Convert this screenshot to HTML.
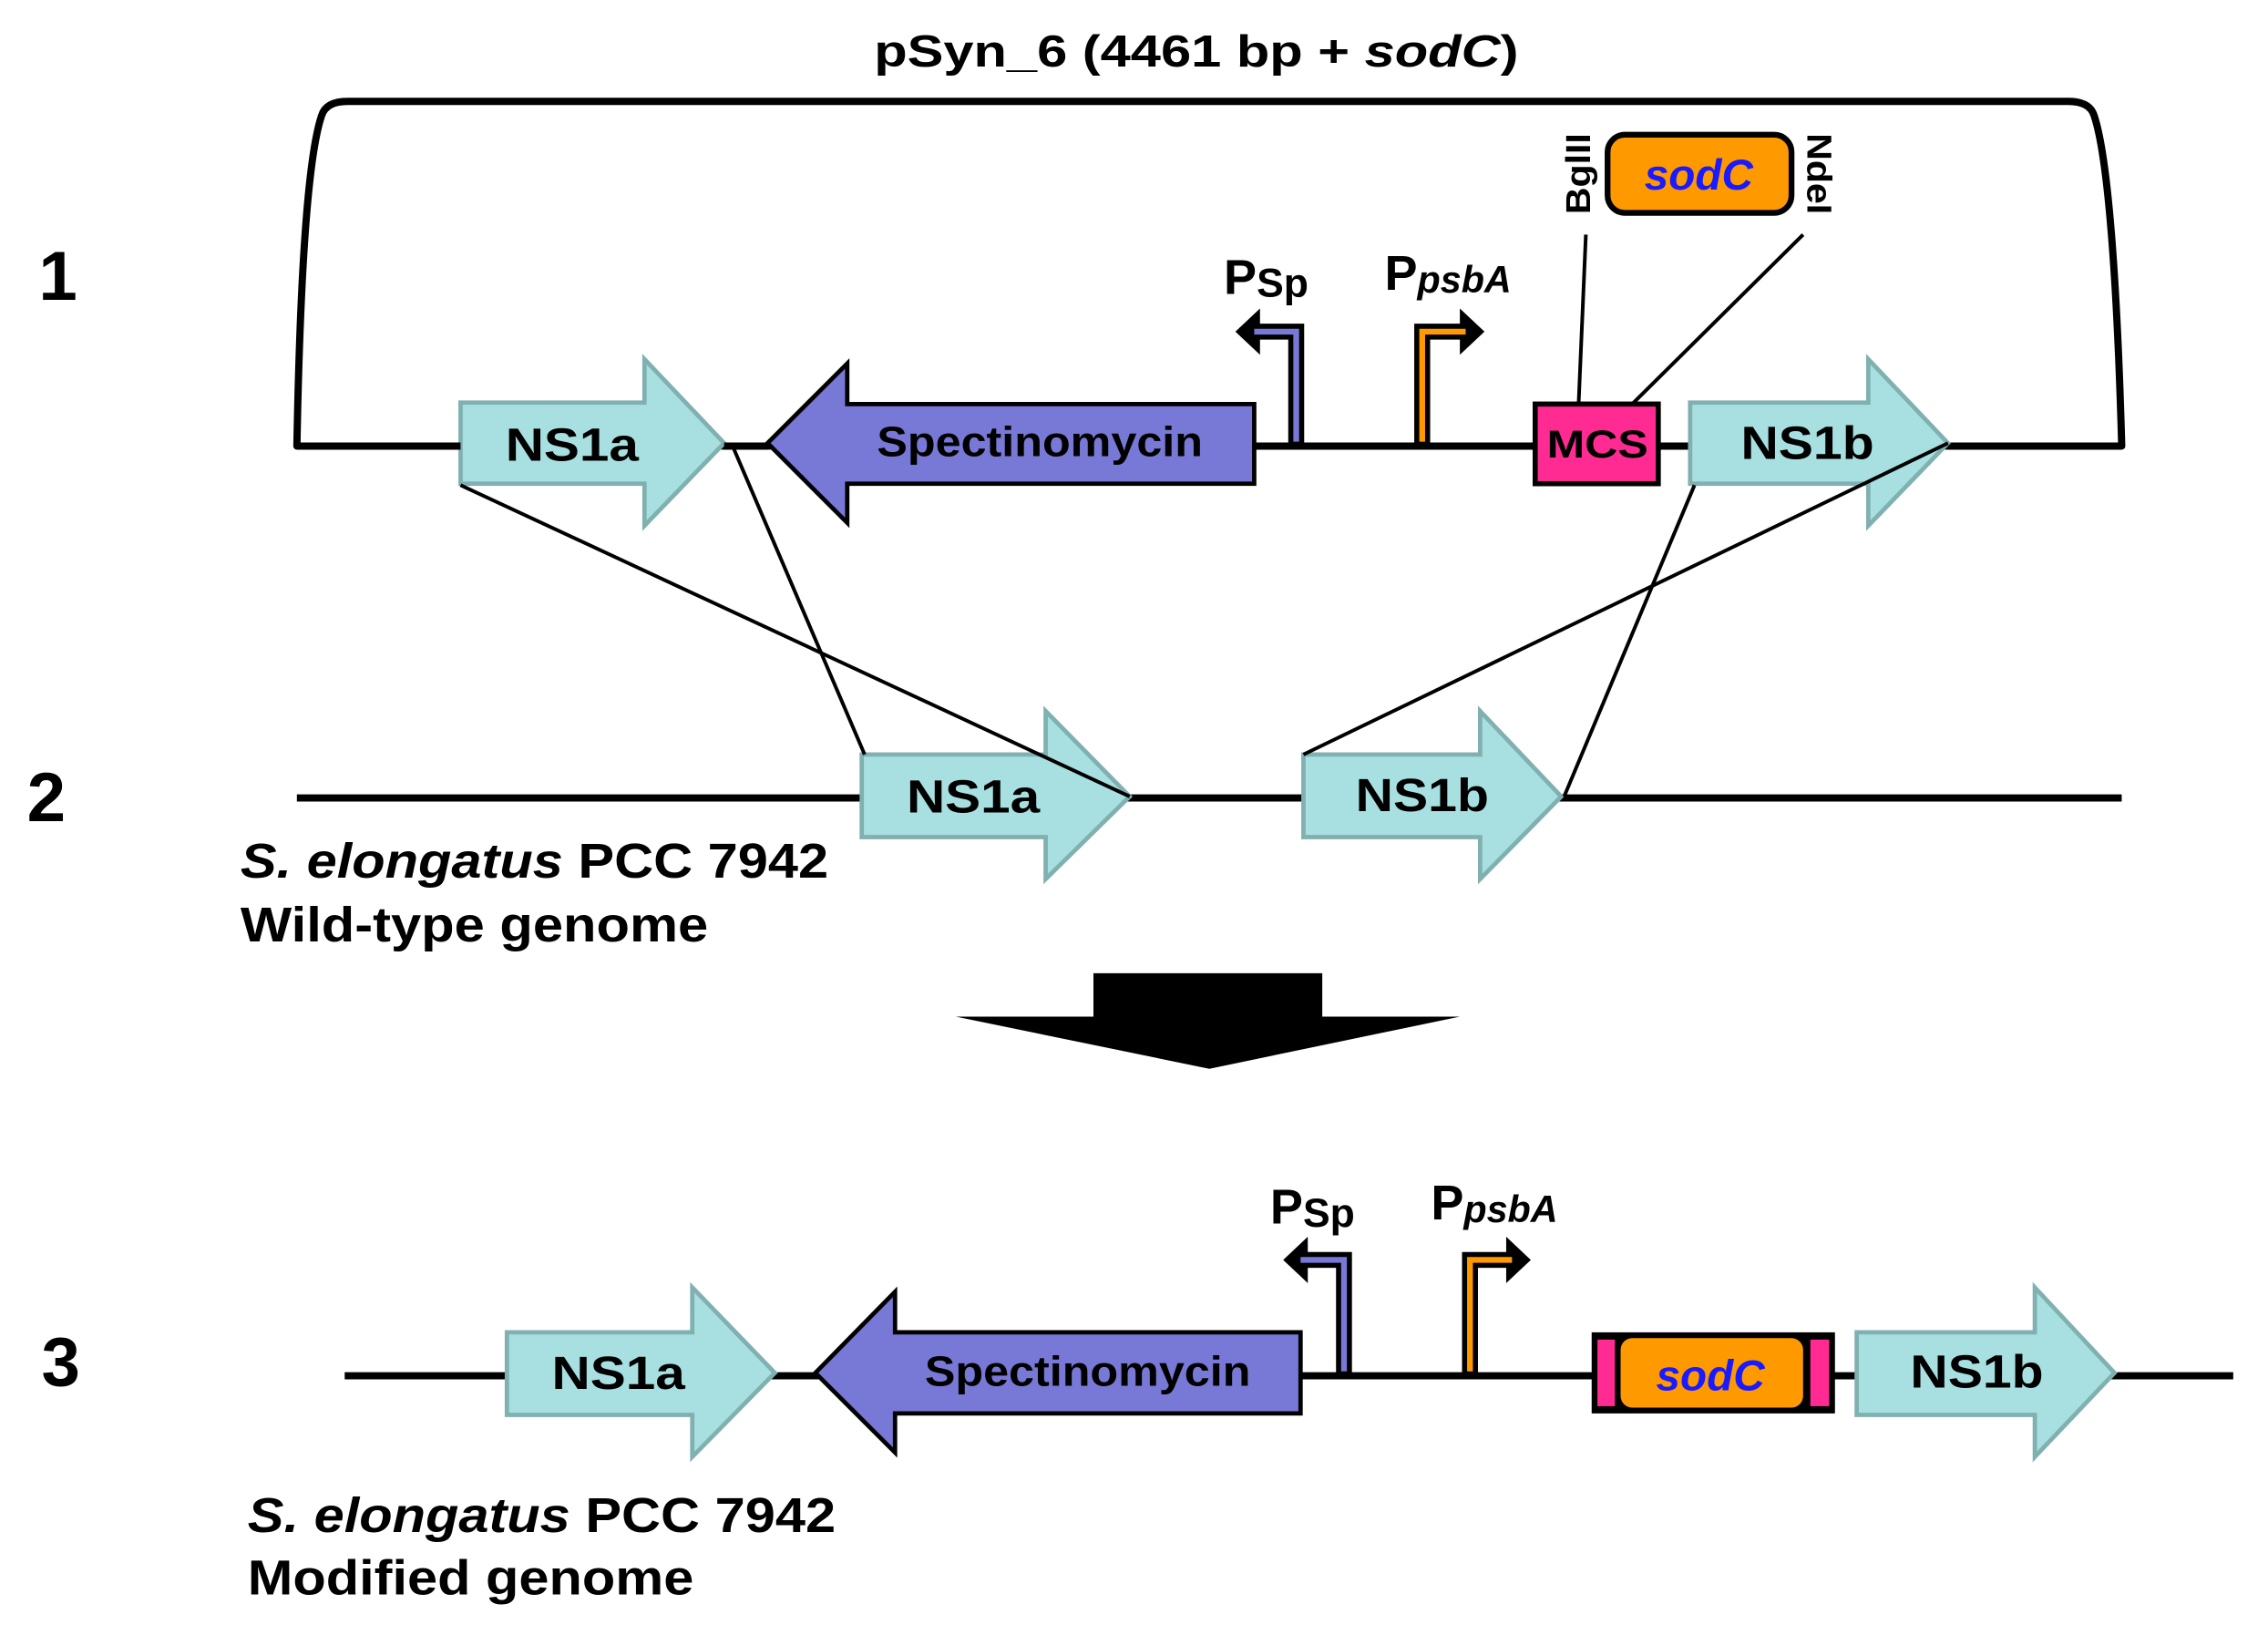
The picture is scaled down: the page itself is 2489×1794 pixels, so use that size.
<!DOCTYPE html>
<html><head><meta charset="utf-8"><style>html,body{margin:0;padding:0;background:#fff}svg{display:block}</style></head>
<body>
<svg width="2489" height="1794" viewBox="0 0 1566 1129" preserveAspectRatio="none" xmlns="http://www.w3.org/2000/svg" font-family="Liberation Sans, Arial, sans-serif" font-weight="bold">
<text x="826" y="46" font-size="31" text-anchor="middle" textLength="445" lengthAdjust="spacingAndGlyphs">pSyn_6 (4461 bp + <tspan font-style="italic">sodC</tspan>)</text>
<path d="M205,308 C207,200 212,110 222,80 Q225,70 240,70 L1428,70 Q1443,70 1446,80 C1456,110 1462,200 1465,308 Z" fill="none" stroke="#000" stroke-width="5" stroke-linejoin="round"/>
<text x="40" y="207" font-size="48" text-anchor="middle">1</text>
<text x="32" y="567" font-size="48" text-anchor="middle">2</text>
<text x="42" y="957" font-size="48" text-anchor="middle">3</text>

<polygon points="318,278 445,278 445,248 500,306 445,363 445,334 318,334" fill="#a8dfe0" stroke="#80b0b0" stroke-width="3"/>
<text x="395" y="318" font-size="32" text-anchor="middle" textLength="92" lengthAdjust="spacingAndGlyphs">NS1a</text>
<polygon points="530,306 585,251 585,279 866,279 866,334 585,334 585,361" fill="#7878d6" stroke="#000" stroke-width="3"/>
<text x="718" y="315" font-size="29" text-anchor="middle" textLength="225" lengthAdjust="spacingAndGlyphs">Spectinomycin</text>
<path d="M895,306 L895,229 L868,229" fill="none" stroke="#000" stroke-width="11"/>
<polygon points="853,229 870,213 870,245" fill="#000"/>
<path d="M895,305 L895,229 L866,229" fill="none" stroke="#7878d6" stroke-width="4"/>
<text x="845" y="203" font-size="34">P<tspan font-size="28" dy="2">Sp</tspan></text>
<path d="M982,306 L982,229 L1010,229" fill="none" stroke="#000" stroke-width="11"/>
<polygon points="1025,229 1008,213 1008,245" fill="#000"/>
<path d="M982,305 L982,229 L1012,229" fill="none" stroke="#ff9900" stroke-width="4"/>
<text x="956" y="200" font-size="34">P<tspan font-size="26" font-style="italic" dy="2">psbA</tspan></text>
<line x1="500" y1="308" x2="530" y2="308" stroke="#000" stroke-width="5"/>
<line x1="866" y1="308" x2="1060" y2="308" stroke="#000" stroke-width="5"/>
<line x1="1145" y1="308" x2="1167" y2="308" stroke="#000" stroke-width="5"/>
<line x1="205" y1="308" x2="318" y2="308" stroke="#000" stroke-width="5"/>
<line x1="1345" y1="308" x2="1465" y2="308" stroke="#000" stroke-width="5"/>
<rect x="1060" y="279" width="85" height="55" fill="#ff2a92" stroke="#000" stroke-width="3.5"/>
<text x="1103" y="316" font-size="27" text-anchor="middle" textLength="70" lengthAdjust="spacingAndGlyphs">MCS</text>
<polygon points="1167,278 1290,278 1290,248 1345,306 1290,363 1290,334 1167,334" fill="#a8dfe0" stroke="#80b0b0" stroke-width="3"/>
<text x="1248" y="317" font-size="32" text-anchor="middle" textLength="92" lengthAdjust="spacingAndGlyphs">NS1b</text>
<rect x="1110" y="93" width="127" height="54" rx="12" fill="#ff9900" stroke="#000" stroke-width="4"/>
<text x="1173" y="131" font-size="30" font-style="italic" fill="#1a1aff" text-anchor="middle">sodC</text>
<text transform="translate(1098,120) rotate(-90)" font-size="24" text-anchor="middle" textLength="56" lengthAdjust="spacingAndGlyphs">BglII</text>
<text transform="translate(1248,120) rotate(90)" font-size="24" text-anchor="middle" textLength="56" lengthAdjust="spacingAndGlyphs">NdeI</text>

<line x1="205" y1="551" x2="1465" y2="551" stroke="#000" stroke-width="5"/>
<polygon points="595,521 722,521 722,491 780,550 722,607 722,578 595,578" fill="#a8dfe0" stroke="#80b0b0" stroke-width="3"/>
<text x="672" y="561" font-size="32" text-anchor="middle" textLength="92" lengthAdjust="spacingAndGlyphs">NS1a</text>
<polygon points="900,521 1022,521 1022,491 1078,550 1022,607 1022,578 900,578" fill="#a8dfe0" stroke="#80b0b0" stroke-width="3"/>
<text x="982" y="560" font-size="32" text-anchor="middle" textLength="92" lengthAdjust="spacingAndGlyphs">NS1b</text>
<text x="166" y="606" font-size="34" textLength="406" lengthAdjust="spacingAndGlyphs"><tspan font-style="italic">S. elongatus</tspan> PCC 7942</text>
<text x="166" y="650" font-size="34" textLength="323" lengthAdjust="spacingAndGlyphs">Wild-type genome</text>

<g stroke="#000" stroke-width="2.5">
<line x1="318" y1="335" x2="780" y2="550"/>
<line x1="505" y1="306" x2="597" y2="521"/>
<line x1="1170" y1="335" x2="1080" y2="550"/>
<line x1="1345" y1="306" x2="900" y2="521"/>
<line x1="1095" y1="162" x2="1090" y2="279"/>
<line x1="1245" y1="162" x2="1127" y2="279"/>
</g>

<polygon points="755,672 913,672 913,702 1008,702 835,738 660,702 755,702" fill="#000"/>

<line x1="238" y1="950" x2="1542" y2="950" stroke="#000" stroke-width="5"/>
<polygon points="350,920 478,920 478,889 535,948 478,1006 478,977 350,977" fill="#a8dfe0" stroke="#80b0b0" stroke-width="3"/>
<text x="427" y="959" font-size="32" text-anchor="middle" textLength="92" lengthAdjust="spacingAndGlyphs">NS1a</text>
<polygon points="563,948 618,892 618,920 898,920 898,976 618,976 618,1003" fill="#7878d6" stroke="#000" stroke-width="3"/>
<text x="751" y="957" font-size="29" text-anchor="middle" textLength="225" lengthAdjust="spacingAndGlyphs">Spectinomycin</text>
<path d="M928,948 L928,870 L900,870" fill="none" stroke="#000" stroke-width="11"/>
<polygon points="886,870 903,854 903,886" fill="#000"/>
<path d="M928,947 L928,870 L898,870" fill="none" stroke="#7878d6" stroke-width="4"/>
<text x="877" y="845" font-size="34">P<tspan font-size="28" dy="2">Sp</tspan></text>
<path d="M1015,948 L1015,870 L1042,870" fill="none" stroke="#000" stroke-width="11"/>
<polygon points="1057,870 1040,854 1040,886" fill="#000"/>
<path d="M1015,947 L1015,870 L1044,870" fill="none" stroke="#ff9900" stroke-width="4"/>
<text x="988" y="842" font-size="34">P<tspan font-size="26" font-style="italic" dy="2">psbA</tspan></text>
<rect x="1099" y="920" width="168" height="56" fill="#000"/>
<rect x="1103" y="925" width="12" height="46" fill="#ff2a92"/>
<rect x="1250" y="925" width="13" height="46" fill="#ff2a92"/>
<rect x="1119" y="924" width="126" height="48" rx="8" fill="#ff9900"/>
<text x="1181" y="960" font-size="30" font-style="italic" fill="#1a1aff" text-anchor="middle">sodC</text>
<polygon points="1282,920 1405,920 1405,889 1460,948 1405,1006 1405,977 1282,977" fill="#a8dfe0" stroke="#80b0b0" stroke-width="3"/>
<text x="1365" y="958" font-size="32" text-anchor="middle" textLength="92" lengthAdjust="spacingAndGlyphs">NS1b</text>
<text x="171" y="1058" font-size="34" textLength="406" lengthAdjust="spacingAndGlyphs"><tspan font-style="italic">S. elongatus</tspan> PCC 7942</text>
<text x="171" y="1101" font-size="34" textLength="308" lengthAdjust="spacingAndGlyphs">Modified genome</text>
</svg>
</body></html>
